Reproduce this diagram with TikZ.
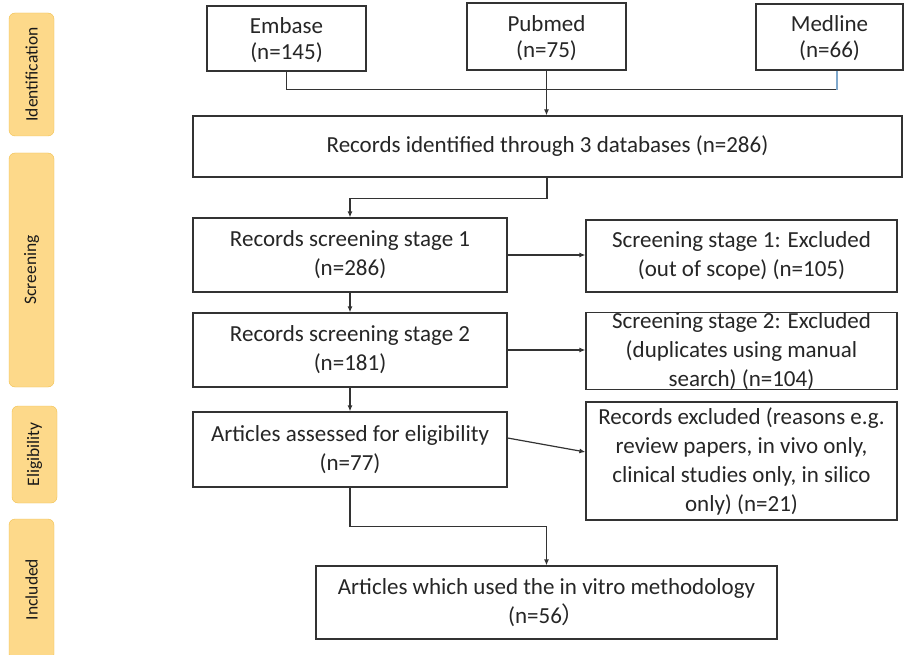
\documentclass[tikz,border=0pt]{standalone}
\usepackage{fontspec}
\setmainfont{Carlito}
\newfontfamily\cjk{Noto Sans CJK SC}
\usetikzlibrary{arrows.meta}
\definecolor{phasefill}{HTML}{FDD98A}
\definecolor{phaseline}{HTML}{F2C14E}
\definecolor{linegray}{HTML}{333333}
\definecolor{mdblue}{HTML}{7FA8CC}
\tikzset{
  box/.style={draw=linegray, line width=1.2pt, align=center, inner sep=2pt,
    font=\fontsize{23}{29}\selectfont, text=black!85},
  dbbox/.style={box, font=\fontsize{23}{26}\selectfont, text depth=-5pt},
  phase/.style={draw=phaseline, fill=phasefill, rounded corners=6pt, rotate=90,
    minimum height=45pt, inner sep=0pt, font=\fontsize{17.5}{19}\selectfont, text=black!90},
  arr/.style={draw=linegray, line width=1.2pt, -{Latex[length=6pt,width=5pt]}},
  conn/.style={draw=linegray, line width=1.2pt},
}
\begin{document}
\begin{tikzpicture}[x=1pt,y=-1pt]
\useasboundingbox[fill=white] (0,0) rectangle (904,655);
% phases on the left
\node[phase, minimum width=123pt] (ident) at (31.5,74.5) {Identification};
\node[phase, minimum width=234pt] (screen) at (31.5,270) {Screening};
\node[phase, minimum width=97pt] (elig) at (34.5,454.5) {Eligibility};
\node[phase, minimum width=141pt] (incl) at (31.5,589.5) {Included};

% databases
\node[dbbox, minimum width=159pt, minimum height=65pt] (embase) at (286.5,38.5) {Embase\\(n=145)};
\node[dbbox, minimum width=159pt, minimum height=67pt] (pubmed) at (546.5,36.5) {Pubmed\\(n=75)};
\node[dbbox, minimum width=147pt, minimum height=66pt] (medline) at (829.5,37) {Medline\\(n=66)};
\node[box, minimum width=709pt, minimum height=61pt] (records) at (547.5,146.5) {Records identified through 3 databases (n=286)};

% screening
\node[box, minimum width=314pt, minimum height=74pt] (stage1) at (350,255) {Records screening stage 1\\(n=286)};
\node[box, minimum width=311pt, minimum height=72pt] (excl1) at (741.5,256) {Screening stage 1: Excluded\\(out of scope) (n=105)};
\node[box, minimum width=314pt, minimum height=74pt] (stage2) at (350,350) {Records screening stage 2\\(n=181)};
\node[box, minimum width=311pt, minimum height=74pt, inner sep=0pt] (excl2) at (741.5,351) {Screening stage 2: Excluded\\(duplicates using manual\\search) (n=104)};

% eligibility and included
\node[box, minimum width=314pt, minimum height=75pt] (assess) at (350,449.5) {Articles assessed for eligibility\\(n=77)};
\node[box, minimum width=311pt, minimum height=118pt] (excl3) at (741.5,461) {Records excluded (reasons e.g.\\review papers, in vivo only,\\clinical studies only, in silico\\only) (n=21)};
\node[box, minimum width=461pt, minimum height=73pt] (final) at (546.5,602.5) {Articles which used the in vitro methodology\\(n=56{\cjk ）}};

% connectors
\coordinate (mdrop) at ([xshift=7.5pt]medline.south);
\draw[conn] (embase.south) |- ([yshift=-19pt]mdrop);
\draw[mdblue, line width=1.2pt] ([yshift=-19pt]mdrop) -- (mdrop);
\draw[arr] (pubmed.south) -- (pubmed.south |- records.north);
\draw[arr] ([xshift=-0.5pt]records.south) -- ++(0,21) -| (stage1.north);
\draw[arr] (stage1.east) -- (stage1.east -| excl1.west);
\draw[arr] (stage1.south) -- (stage2.north);
\draw[arr] (stage2.east) -- (stage2.east -| excl2.west);
\draw[arr] (stage2.south) -- (assess.north);
\draw[arr] ([yshift=11.5pt]assess.east) -- ([yshift=9pt]excl3.west);
\draw[arr] (assess.south) -- ++(0,39) -| (final.north);
\end{tikzpicture}
\end{document}
